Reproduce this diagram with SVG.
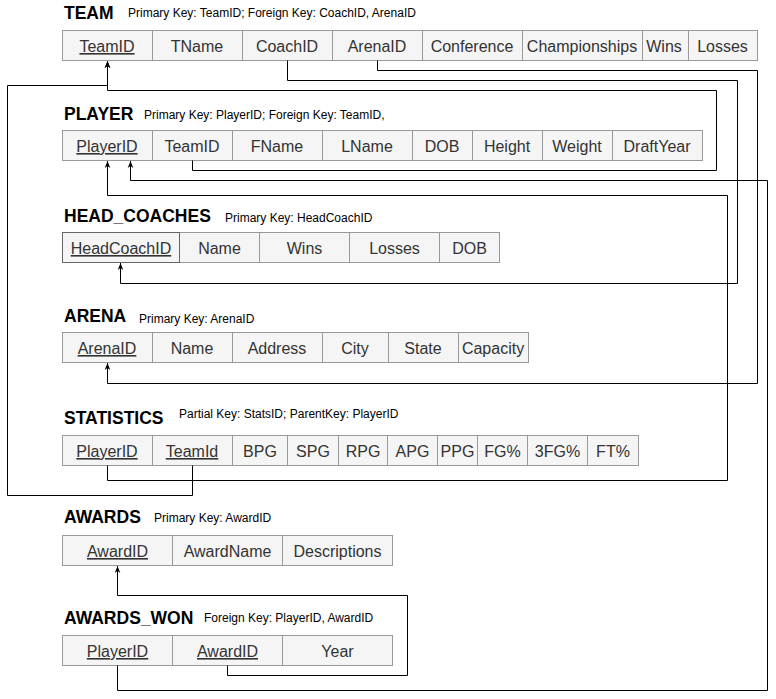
<svg xmlns="http://www.w3.org/2000/svg" width="776" height="699" viewBox="0 0 776 699">
<style>
.title{font-family:"Liberation Sans",Arial,sans-serif;font-weight:bold;font-size:17.5px;fill:#000}
.sub{font-family:"Liberation Sans",Arial,sans-serif;font-size:12px;fill:#000}
.cell{fill:#f5f5f5;stroke:#999;stroke-width:1}
.cell.sel{stroke:#666}
.ct{font-family:"Liberation Sans",Arial,sans-serif;font-size:16px;fill:#333;text-anchor:middle}
.key{text-decoration:underline}
.conn{fill:none;stroke:#000;stroke-width:1}
</style>
<defs>
<marker id="arrow" viewBox="0 0 10 10" refX="10" refY="5" markerWidth="7" markerHeight="7" markerUnits="userSpaceOnUse" orient="auto">
<path d="M0,1 L10,5 L0,9 L3,5 z" fill="#000"/>
</marker>
</defs>
<rect width="776" height="699" fill="#fff"/>

<g id="team">
<text class="title" x="64" y="19">TEAM</text>
<text class="sub" x="128" y="17">Primary Key: TeamID; Foreign Key: CoachID, ArenaID</text>
<rect class="cell" x="62.5" y="30.5" width="90" height="30"/>
<rect class="cell" x="152.5" y="30.5" width="90" height="30"/>
<rect class="cell" x="242.5" y="30.5" width="90" height="30"/>
<rect class="cell" x="332.5" y="30.5" width="90" height="30"/>
<rect class="cell" x="422.5" y="30.5" width="100" height="30"/>
<rect class="cell" x="522.5" y="30.5" width="120" height="30"/>
<rect class="cell" x="642.5" y="30.5" width="46" height="30"/>
<rect class="cell" x="688.5" y="30.5" width="69" height="30"/>
<text class="ct key" x="107" y="52">TeamID</text>
<text class="ct" x="197" y="52">TName</text>
<text class="ct" x="287" y="52">CoachID</text>
<text class="ct" x="377" y="52">ArenaID</text>
<text class="ct" x="472" y="52">Conference</text>
<text class="ct" x="582" y="52">Championships</text>
<text class="ct" x="664" y="52">Wins</text>
<text class="ct" x="722.5" y="52">Losses</text>
</g>

<g id="player">
<text class="title" x="64" y="120">PLAYER</text>
<text class="sub" x="144" y="119">Primary Key: PlayerID; Foreign Key: TeamID,</text>
<rect class="cell" x="62.5" y="130.5" width="90" height="30"/>
<rect class="cell" x="152.5" y="130.5" width="80" height="30"/>
<rect class="cell" x="232.5" y="130.5" width="90" height="30"/>
<rect class="cell" x="322.5" y="130.5" width="90" height="30"/>
<rect class="cell" x="412.5" y="130.5" width="60" height="30"/>
<rect class="cell" x="472.5" y="130.5" width="70" height="30"/>
<rect class="cell" x="542.5" y="130.5" width="70" height="30"/>
<rect class="cell" x="612.5" y="130.5" width="90" height="30"/>
<text class="ct key" x="107" y="152">PlayerID</text>
<text class="ct" x="192" y="152">TeamID</text>
<text class="ct" x="277" y="152">FName</text>
<text class="ct" x="367" y="152">LName</text>
<text class="ct" x="442" y="152">DOB</text>
<text class="ct" x="507" y="152">Height</text>
<text class="ct" x="577" y="152">Weight</text>
<text class="ct" x="657" y="152">DraftYear</text>
</g>

<g id="head_coaches">
<text class="title" x="64" y="222">HEAD_COACHES</text>
<text class="sub" x="225" y="221.5">Primary Key: HeadCoachID</text>
<rect class="cell" x="179.5" y="232.5" width="80" height="30"/>
<rect class="cell" x="259.5" y="232.5" width="90" height="30"/>
<rect class="cell" x="349.5" y="232.5" width="90" height="30"/>
<rect class="cell" x="439.5" y="232.5" width="60" height="30"/>
<rect class="cell sel" x="62.5" y="232.5" width="117" height="30"/>
<text class="ct key" x="121" y="254">HeadCoachID</text>
<text class="ct" x="219.5" y="254">Name</text>
<text class="ct" x="304.5" y="254">Wins</text>
<text class="ct" x="394.5" y="254">Losses</text>
<text class="ct" x="469.5" y="254">DOB</text>
</g>

<g id="arena">
<text class="title" x="64" y="322">ARENA</text>
<text class="sub" x="139" y="322.5">Primary Key: ArenaID</text>
<rect class="cell" x="62.5" y="332.5" width="90" height="30"/>
<rect class="cell" x="152.5" y="332.5" width="80" height="30"/>
<rect class="cell" x="232.5" y="332.5" width="90" height="30"/>
<rect class="cell" x="322.5" y="332.5" width="66" height="30"/>
<rect class="cell" x="388.5" y="332.5" width="70" height="30"/>
<rect class="cell" x="458.5" y="332.5" width="70" height="30"/>
<text class="ct key" x="107" y="354">ArenaID</text>
<text class="ct" x="192" y="354">Name</text>
<text class="ct" x="277" y="354">Address</text>
<text class="ct" x="355" y="354">City</text>
<text class="ct" x="423" y="354">State</text>
<text class="ct" x="493" y="354">Capacity</text>
</g>

<g id="statistics">
<text class="title" x="64" y="424">STATISTICS</text>
<text class="sub" x="179" y="418">Partial Key: StatsID; ParentKey: PlayerID</text>
<rect class="cell" x="62.5" y="435.5" width="90" height="30"/>
<rect class="cell" x="152.5" y="435.5" width="80" height="30"/>
<rect class="cell" x="232.5" y="435.5" width="55" height="30"/>
<rect class="cell" x="287.5" y="435.5" width="51" height="30"/>
<rect class="cell" x="338.5" y="435.5" width="49" height="30"/>
<rect class="cell" x="387.5" y="435.5" width="50" height="30"/>
<rect class="cell" x="437.5" y="435.5" width="40" height="30"/>
<rect class="cell" x="477.5" y="435.5" width="50" height="30"/>
<rect class="cell" x="527.5" y="435.5" width="60" height="30"/>
<rect class="cell" x="587.5" y="435.5" width="51" height="30"/>
<text class="ct key" x="107" y="457">PlayerID</text>
<text class="ct key" x="192" y="457">TeamId</text>
<text class="ct" x="260" y="457">BPG</text>
<text class="ct" x="313" y="457">SPG</text>
<text class="ct" x="363" y="457">RPG</text>
<text class="ct" x="412.5" y="457">APG</text>
<text class="ct" x="457.5" y="457">PPG</text>
<text class="ct" x="502.5" y="457">FG%</text>
<text class="ct" x="557.5" y="457">3FG%</text>
<text class="ct" x="613" y="457">FT%</text>
</g>

<g id="awards">
<text class="title" x="64" y="523">AWARDS</text>
<text class="sub" x="154" y="521.5">Primary Key: AwardID</text>
<rect class="cell" x="62.5" y="535.5" width="110" height="30"/>
<rect class="cell" x="172.5" y="535.5" width="110" height="30"/>
<rect class="cell" x="282.5" y="535.5" width="110" height="30"/>
<text class="ct key" x="117.5" y="557">AwardID</text>
<text class="ct" x="227.5" y="557">AwardName</text>
<text class="ct" x="337.5" y="557">Descriptions</text>
</g>

<g id="awards_won">
<text class="title" x="64" y="624">AWARDS_WON</text>
<text class="sub" x="204" y="622">Foreign Key: PlayerID, AwardID</text>
<rect class="cell" x="62.5" y="635.5" width="110" height="30"/>
<rect class="cell" x="172.5" y="635.5" width="110" height="30"/>
<rect class="cell" x="282.5" y="635.5" width="110" height="30"/>
<text class="ct key" x="117.5" y="657">PlayerID</text>
<text class="ct key" x="227.5" y="657">AwardID</text>
<text class="ct" x="337.5" y="657">Year</text>
</g>

<g id="connectors">
<path class="conn" marker-end="url(#arrow)" d="M192.5,160.5 V170.5 H716.5 V90.5 H107.5 V61"/>
<path class="conn" marker-end="url(#arrow)" d="M192.5,465.5 V495.5 H7.5 V85.5 H107.5 V61"/>
<path class="conn" marker-end="url(#arrow)" d="M287.5,60.5 V80.5 H737.5 V283.5 H120.5 V263"/>
<path class="conn" marker-end="url(#arrow)" d="M377.5,60.5 V70.5 H757.5 V383.5 H107.5 V363"/>
<path class="conn" marker-end="url(#arrow)" d="M107.5,465.5 V480.5 H727.5 V195.5 H107.5 V161"/>
<path class="conn" marker-end="url(#arrow)" d="M117.5,665.5 V690.5 H767.5 V180.5 H130.5 V161"/>
<path class="conn" marker-end="url(#arrow)" d="M227.5,665.5 V675.5 H407.5 V595.5 H117.5 V566"/>
</g>
</svg>
